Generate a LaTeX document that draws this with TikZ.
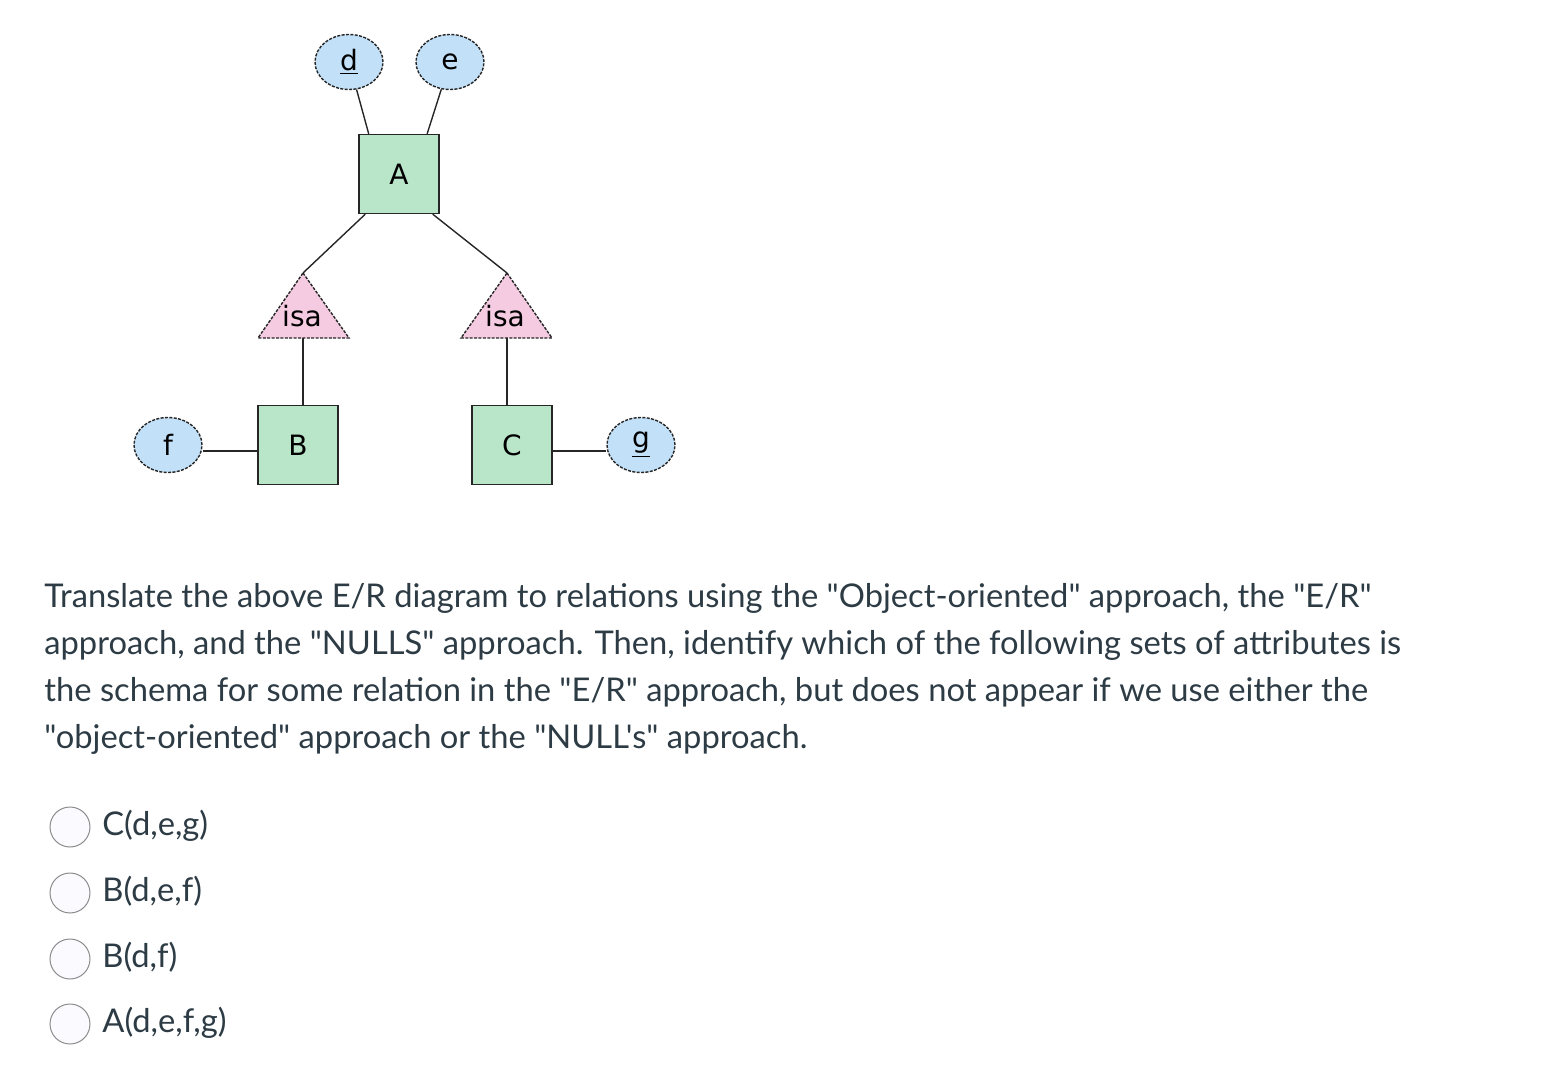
\documentclass[tikz,border=0pt]{standalone}
\usepackage{fontspec}
\newfontfamily\latofont{Lato}
\newfontfamily\erfont{DejaVu Sans}
\usetikzlibrary{shapes.geometric}
\definecolor{attrblue}{HTML}{C2E1F8}
\definecolor{entgreen}{HTML}{B9E5C8}
\definecolor{isapink}{HTML}{F5CBE2}
\definecolor{txtgray}{HTML}{2D3B45}
\definecolor{radiogray}{HTML}{8C8C8C}
\tikzset{
  erlabel/.style={font=\erfont\fontsize{14}{14}\selectfont},
  attr/.style={ellipse, draw=black!85, line width=0.7pt, dash pattern=on 1.5pt off 0.7pt, fill=attrblue, minimum width=34pt, minimum height=27.5pt, inner sep=0pt, erlabel},
  entity/.style={rectangle, draw=black!85, line width=0.7pt, fill=entgreen, minimum width=40pt, minimum height=39.5pt, inner sep=0pt, erlabel},
  isatri/.style={draw=black!85, line width=0.7pt, dash pattern=on 1.5pt off 0.7pt, fill=isapink},
  link/.style={draw=black!85, line width=0.7pt},
  qline/.style={anchor=base west, inner sep=0pt, text=txtgray, font=\latofont\fontsize{16.35}{20}\selectfont},
  radio/.style={circle, draw=radiogray, fill=blue!2, minimum size=20pt, inner sep=0pt, line width=0.5pt}
}
\begin{document}
\begin{tikzpicture}[x=0.5pt, y=-0.5pt]
    \useasboundingbox (0,0) rectangle (1555,1070);
    % entities and attributes
    \node[entity] (A) at (399,174) {A};
    \node[attr] (d) at (349,62) {\underline{d}};
    \node[attr] (e) at (450,62) {e};
    \node[entity] (B) at (298,445) {B};
    \node[entity] (C) at (512,445) {C};
    \node[attr] (f) at (168,445) {f};
    \node[attr] (g) at (641,445) {\underline{g}};
    % isa triangles
    \draw[isatri] (303,273) -- (349,338) -- (258,338) -- cycle;
    \draw[isatri] (507,273) -- (552,338) -- (461,338) -- cycle;
    \coordinate (isaL top) at (303,273);
    \coordinate (isaL base) at (303,338);
    \coordinate (isaR top) at (507,273);
    \coordinate (isaR base) at (507,338);
    \node[erlabel] (isaL) at (302,316) {isa};
    \node[erlabel] (isaR) at (505,316) {isa};
    % connectors
    \draw[link] (d) -- (A.127);
    \draw[link] (e) -- (A.55);
    \draw[link] (A.230) -- (isaL top);
    \draw[link] (A.310) -- (isaR top);
    \draw[link] (isaL base) -- (isaL base |- B.north);
    \draw[link] (isaR base) -- (isaR base |- C.north);
    \draw[link] ([yshift=-3pt]f.east) -- ([yshift=-3pt]B.west);
    \draw[link] ([yshift=-3pt]C.east) -- ([yshift=-3pt]g.west);
    % question text
    \node[qline] (q1) at (44,607) {Translate the above E/R diagram to relations using the "Object-oriented" approach, the "E/R"};
    \node[qline] (q2) at (44,654) {approach, and the "NULLS" approach. Then, identify which of the following sets of attributes is};
    \node[qline] (q3) at (44,701) {the schema for some relation in the "E/R" approach, but does not appear if we use either the};
    \node[qline] (q4) at (44,748) {"object-oriented" approach or the "NULL's" approach.};
    % answer options
    \node[radio] (r1) at (70,827) {};
    \node[radio] (r2) at (70,893) {};
    \node[radio] (r3) at (70,959) {};
    \node[radio] (r4) at (70,1024) {};
    \node[qline] (o1) at (102,835) {C(d,e,g)};
    \node[qline] (o2) at (102,901) {B(d,e,f)};
    \node[qline] (o3) at (102,967) {B(d,f)};
    \node[qline] (o4) at (102,1032) {A(d,e,f,g)};
\end{tikzpicture}
\end{document}
